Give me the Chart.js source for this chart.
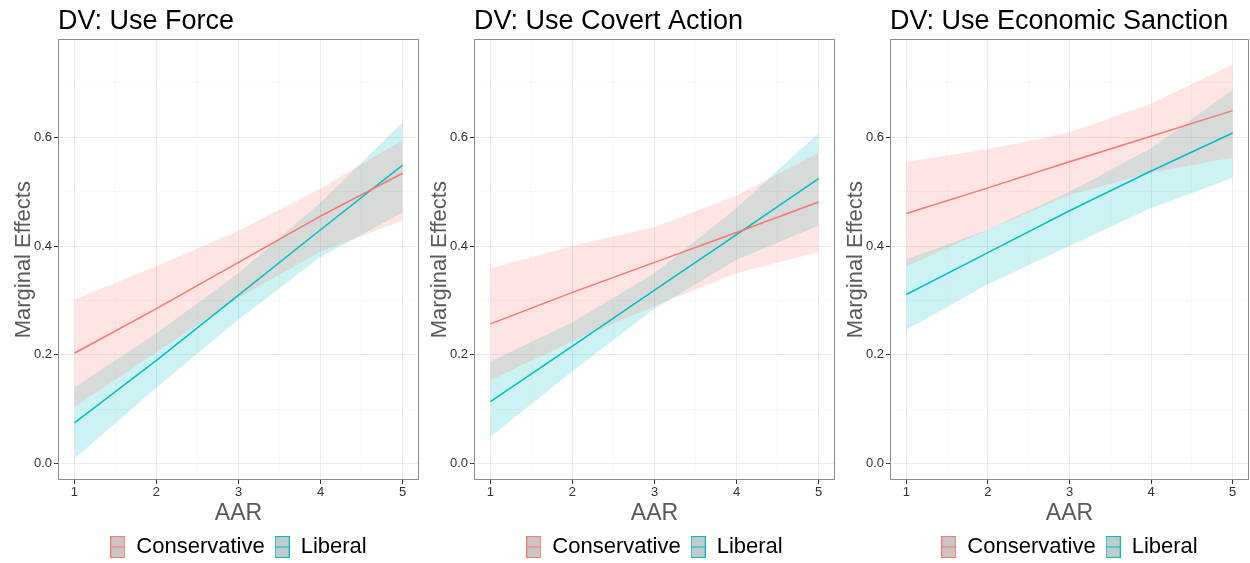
<!DOCTYPE html>
<html>
<head>
  <title>Marginal Effects by AAR</title>
  <script src="https://cdn.jsdelivr.net/npm/chart.js"></script>
  <style>
    body { margin: 0; background: #fff; }
    .panel { position: absolute; top: 0; height: 563px; }
  </style>
</head>
<body>
  <div class="panel" style="left:0px"><canvas id="forceChart" width="420" height="563"></canvas></div>
  <div class="panel" style="left:416px"><canvas id="covertChart" width="420" height="563"></canvas></div>
  <div class="panel" style="left:832px"><canvas id="sanctionChart" width="418" height="563"></canvas></div>

  <script>
    const aar = [1, 2, 3, 4, 5];
    const xTicks = [1, 1.5, 2, 2.5, 3, 3.5, 4, 4.5, 5];
    const yTicks = [0, 0.1, 0.2, 0.3, 0.4, 0.5, 0.6, 0.7];
    const groups = ['Conservative', 'Liberal'];

    // DV: Use Force
    const forceConsFit = [0.203, 0.285, 0.370, 0.455, 0.534];
    const forceConsLow = [0.104, 0.205, 0.305, 0.390, 0.447];
    const forceConsHigh = [0.302, 0.363, 0.428, 0.506, 0.595];
    const forceLibFit = [0.075, 0.190, 0.310, 0.430, 0.549];
    const forceLibLow = [0.009, 0.140, 0.265, 0.380, 0.462];
    const forceLibHigh = [0.140, 0.240, 0.350, 0.480, 0.627];

    // DV: Use Covert Action
    const covertConsFit = [0.257, 0.315, 0.370, 0.425, 0.481];
    const covertConsLow = [0.154, 0.225, 0.290, 0.350, 0.389];
    const covertConsHigh = [0.359, 0.400, 0.435, 0.493, 0.571];
    const covertLibFit = [0.114, 0.216, 0.319, 0.421, 0.524];
    const covertLibLow = [0.049, 0.170, 0.285, 0.375, 0.438];
    const covertLibHigh = [0.188, 0.260, 0.350, 0.470, 0.608];

    // DV: Use Economic Sanction
    const sanctionConsFit = [0.460, 0.507, 0.555, 0.602, 0.649];
    const sanctionConsLow = [0.363, 0.430, 0.494, 0.535, 0.563];
    const sanctionConsHigh = [0.555, 0.578, 0.609, 0.662, 0.734];
    const sanctionLibFit = [0.311, 0.388, 0.465, 0.538, 0.608];
    const sanctionLibLow = [0.246, 0.330, 0.400, 0.470, 0.525];
    const sanctionLibHigh = [0.376, 0.430, 0.500, 0.580, 0.687];

    const red = '#F8766D';
    const teal = '#00BFC4';
    const redFill = 'rgba(248,118,109,0.2)';
    const tealFill = 'rgba(0,191,196,0.2)';
    const font = "'Liberation Sans', Arial, sans-serif";

    const pts = ys => aar.map((x, i) => ({ x: x, y: ys[i] }));
    const isMajorX = v => Number.isInteger(v);
    const isMajorY = v => Math.round(v * 10) % 2 === 0;

    // legend key like ggplot ribbon+line key
    function makeKey(color, tint) {
      const c = document.createElement('canvas');
      c.width = 15; c.height = 22;
      const g = c.getContext('2d');
      g.fillStyle = tint;
      g.fillRect(0, 0, 15, 22);
      g.strokeStyle = color;
      g.lineWidth = 1;
      g.strokeRect(0.5, 0.5, 14, 21);
      g.beginPath();
      g.moveTo(1, 11); g.lineTo(14, 11);
      g.stroke();
      return c;
    }
    const keys = [makeKey(red, '#cdc4c4'), makeKey(teal, '#bfcccc')];

    const panelBox = {
      id: 'panelBox',
      afterDraw(chart) {
        const { ctx, chartArea: a } = chart;
        ctx.save();
        ctx.strokeStyle = '#8c8c8c';
        ctx.lineWidth = 1;
        ctx.strokeRect(Math.round(a.left) + 0.5, Math.round(a.top) + 0.5,
          Math.round(a.right - a.left) - 1, Math.round(a.bottom - a.top) - 1);
        ctx.restore();
      }
    };

    function makePanel(id, title, consFit, consLow, consHigh, libFit, libLow, libHigh) {
      return new Chart(document.getElementById(id), {
        type: 'line',
        data: {
          datasets: [
            { label: groups[0], data: pts(consFit), borderColor: red, borderWidth: 1.5, pointRadius: 0, fill: false },
            { label: groups[1], data: pts(libFit), borderColor: teal, borderWidth: 1.5, pointRadius: 0, fill: false },
            { label: 'consLow', data: pts(consLow), borderWidth: 0, pointRadius: 0, fill: false },
            { label: 'consHigh', data: pts(consHigh), borderWidth: 0, pointRadius: 0, fill: '-1', backgroundColor: redFill },
            { label: 'libLow', data: pts(libLow), borderWidth: 0, pointRadius: 0, fill: false },
            { label: 'libHigh', data: pts(libHigh), borderWidth: 0, pointRadius: 0, fill: '-1', backgroundColor: tealFill }
          ]
        },
        options: {
          responsive: false,
          animation: false,
          layout: { padding: { left: 0, right: 1, top: 0, bottom: -5 } },
          plugins: {
            tooltip: { enabled: false },
            title: {
              display: true, text: title, align: 'start', fullSize: false,
              color: '#000', font: { family: font, size: 27, weight: 'normal' },
              padding: { top: 5, bottom: 2 }
            },
            legend: {
              position: 'bottom', fullSize: false,
              labels: {
                font: { family: font, size: 22 }, color: '#000',
                usePointStyle: true, pointStyleWidth: 15, boxHeight: 22, padding: 10,
                generateLabels: () => groups.map((g, i) => ({
                  text: g, pointStyle: keys[i], fillStyle: 'transparent',
                  strokeStyle: 'transparent', lineWidth: 0, datasetIndex: i
                }))
              }
            }
          },
          scales: {
            x: {
              type: 'linear', min: 0.8, max: 5.2,
              afterBuildTicks: s => { s.ticks = xTicks.map(v => ({ value: v })); },
              afterFit: s => { s.height = 46; },
              border: { display: false },
              grid: {
                color: c => isMajorX(c.tick.value) ? '#ebebeb' : '#f5f5f5',
                lineWidth: c => isMajorX(c.tick.value) ? 1 : 0.7,
                tickColor: c => isMajorX(c.tick.value) ? '#333' : 'rgba(0,0,0,0)',
                tickLength: 4
              },
              ticks: {
                autoSkip: false, maxRotation: 0, padding: 1, color: '#303030',
                font: { family: font, size: 13 },
                callback: v => isMajorX(v) ? String(v) : ''
              },
              title: {
                display: true, text: 'AAR', color: '#595959',
                font: { family: font, size: 23 }, padding: { top: 0, bottom: -1 }
              }
            },
            y: {
              type: 'linear', min: -0.03, max: 0.78,
              afterBuildTicks: s => { s.ticks = yTicks.map(v => ({ value: v })); },
              afterFit: s => { s.width = 58; },
              border: { display: false },
              grid: {
                color: c => isMajorY(c.tick.value) ? '#ebebeb' : '#f5f5f5',
                lineWidth: c => isMajorY(c.tick.value) ? 1 : 0.7,
                tickColor: c => isMajorY(c.tick.value) ? '#333' : 'rgba(0,0,0,0)',
                tickLength: 4
              },
              ticks: {
                autoSkip: false, padding: 2, color: '#303030',
                font: { family: font, size: 13 },
                callback: v => isMajorY(v) ? v.toFixed(1) : ''
              },
              title: {
                display: true, text: 'Marginal Effects', color: '#595959',
                font: { family: font, size: 22 }, padding: { top: 11, bottom: 0 }
              }
            }
          }
        },
        plugins: [panelBox]
      });
    }

    makePanel('forceChart', 'DV: Use Force',
      forceConsFit, forceConsLow, forceConsHigh, forceLibFit, forceLibLow, forceLibHigh);
    makePanel('covertChart', 'DV: Use Covert Action',
      covertConsFit, covertConsLow, covertConsHigh, covertLibFit, covertLibLow, covertLibHigh);
    makePanel('sanctionChart', 'DV: Use Economic Sanction',
      sanctionConsFit, sanctionConsLow, sanctionConsHigh, sanctionLibFit, sanctionLibLow, sanctionLibHigh);
  </script>
</body>
</html>
